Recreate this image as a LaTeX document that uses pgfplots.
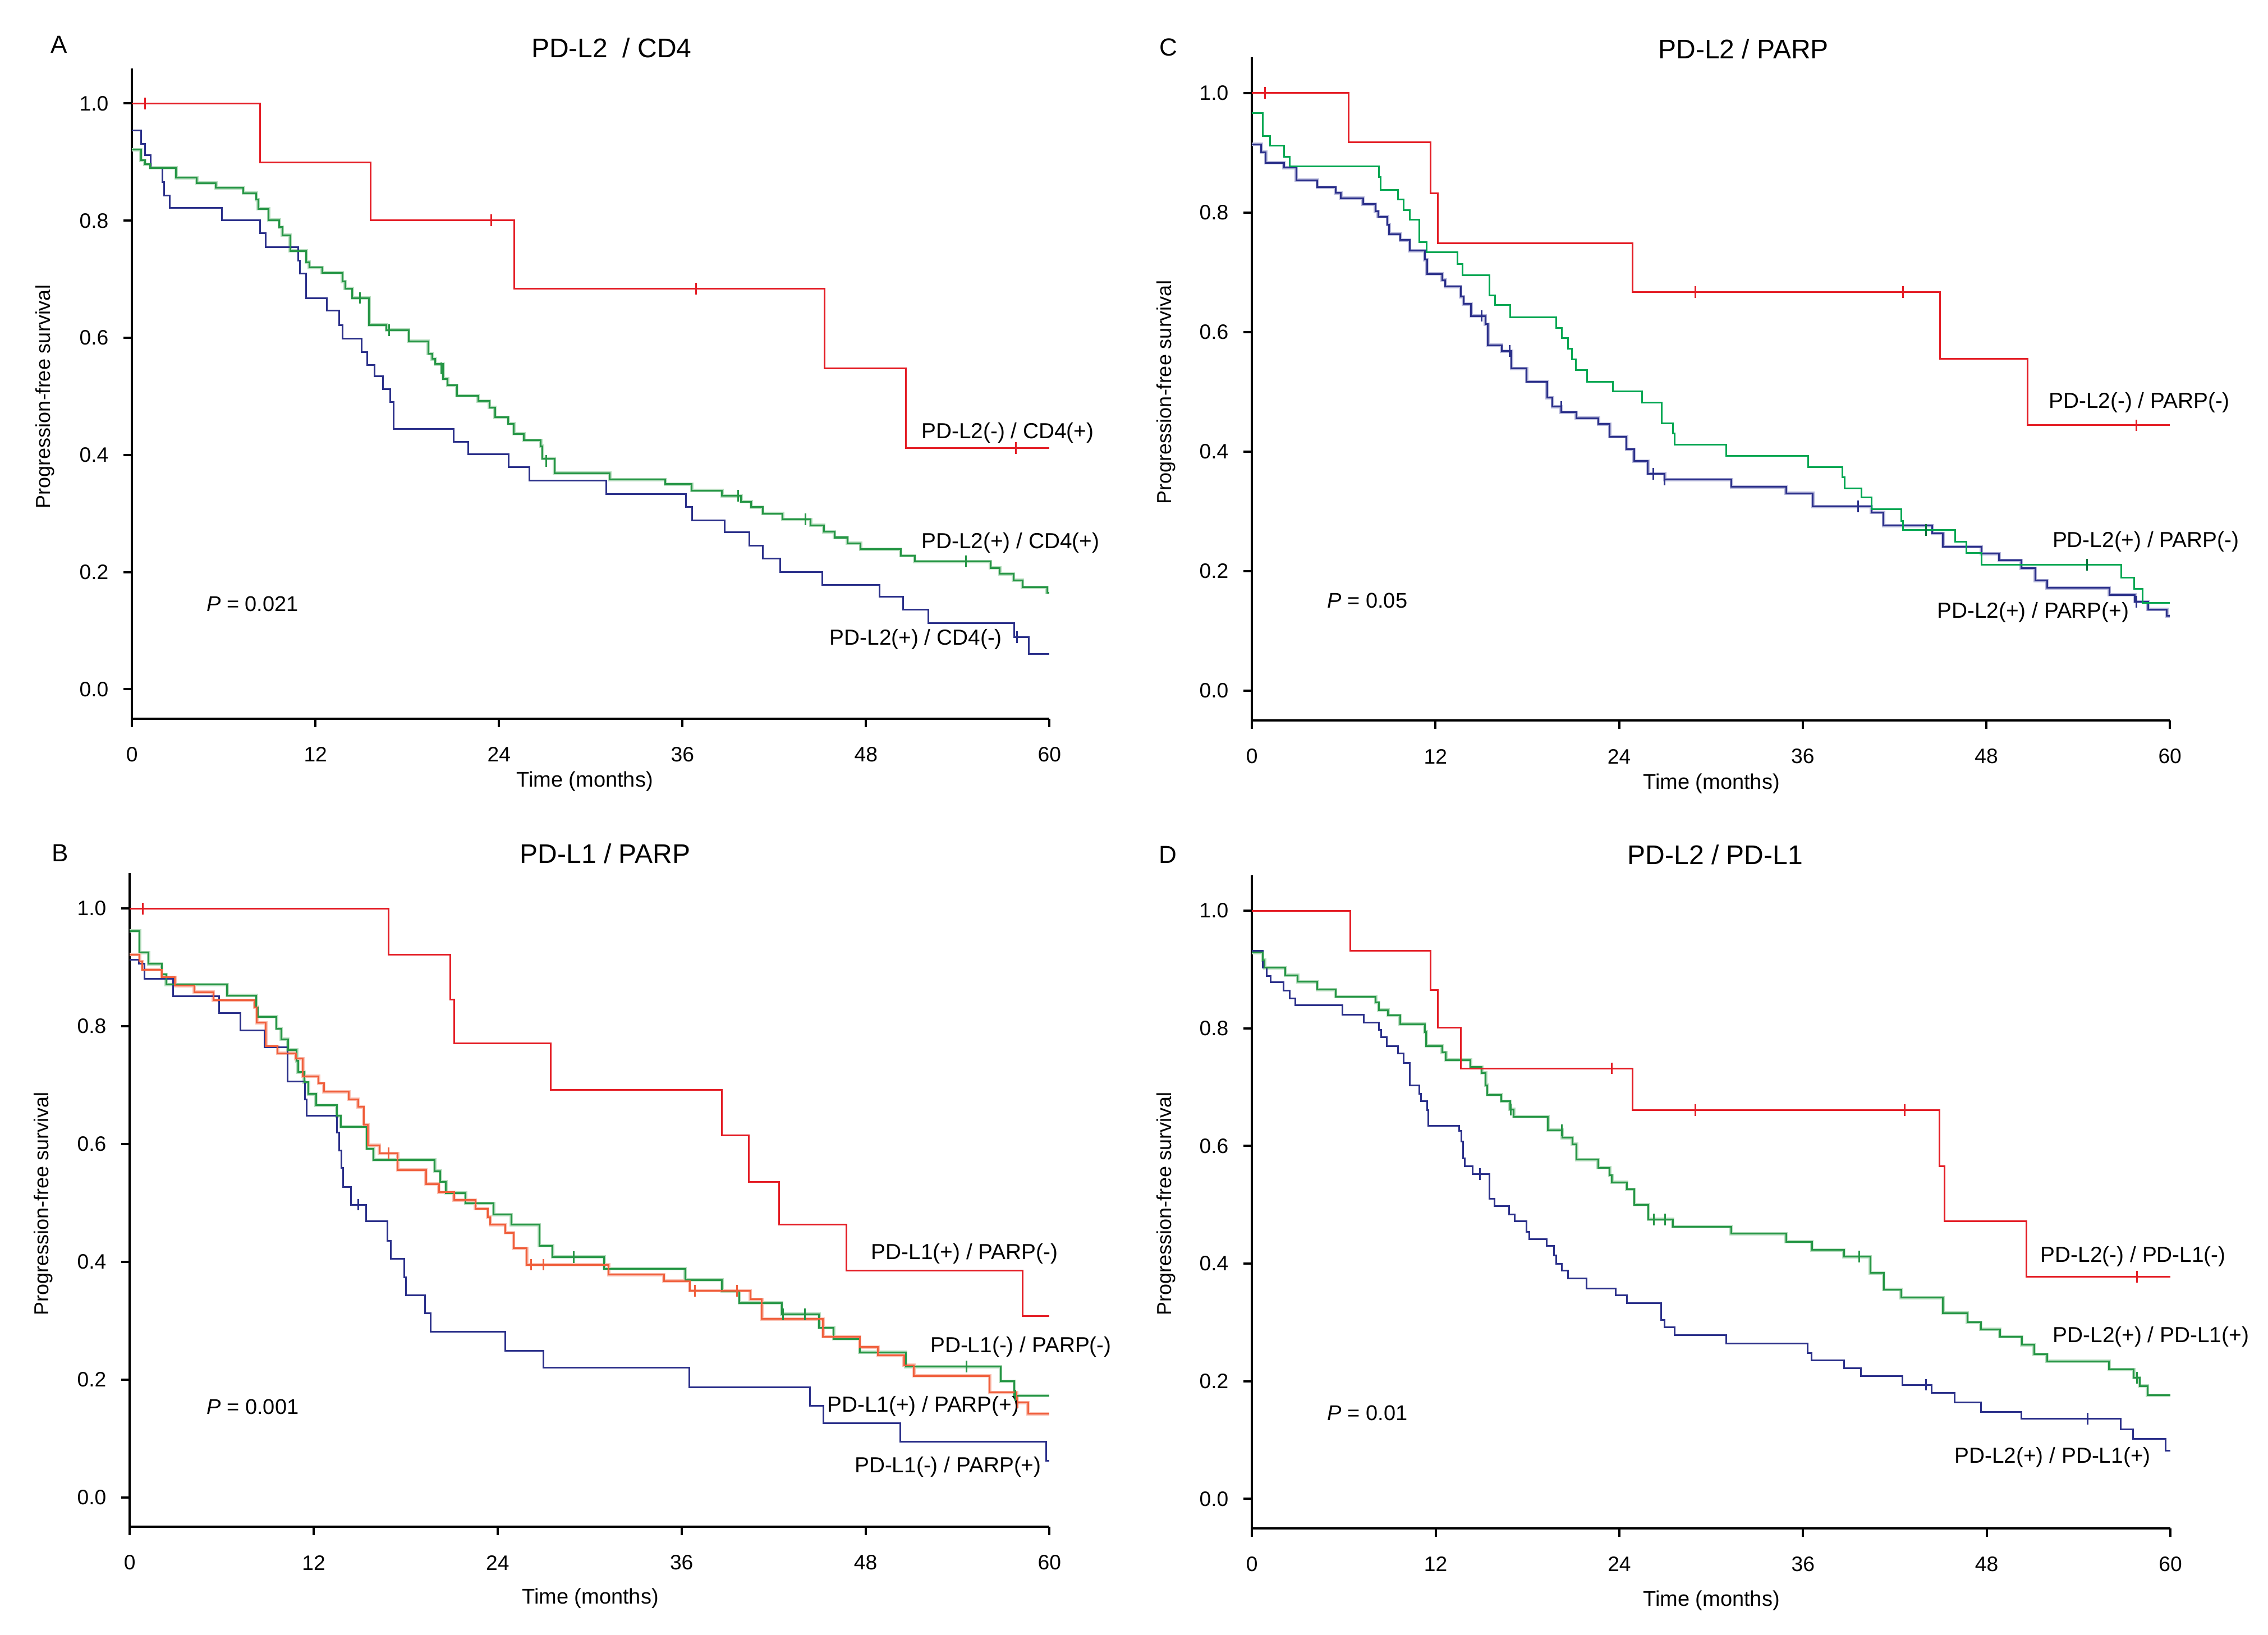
\documentclass[border=0pt]{standalone}
\usepackage{fontspec}
\setmainfont{Liberation Sans}
\usepackage{pgfplots}
\usepackage{pgfplotstable}
\pgfplotsset{compat=1.18}

\definecolor{kmred}{RGB}{228,30,38}
\definecolor{kmgreen}{RGB}{38,150,70}
\definecolor{kmgreenC}{RGB}{0,166,81}
\definecolor{kmblue}{RGB}{43,48,138}
\definecolor{kmorange}{RGB}{240,95,60}
\definecolor{halogreen}{RGB}{185,222,192}
\definecolor{haloorange}{RGB}{250,195,182}
\definecolor{haloblue}{RGB}{185,186,220}

% ---------- panel A: PD-L2 / CD4 ----------
\pgfplotstableread{
t s
0 1.000
8.36 0.899
15.6 0.801
25.0 0.684
45.3 0.548
50.6 0.412
60 0.412
}\Ared
\pgfplotstableread{
t s
0 0.954
0.58 0.931
0.84 0.912
1.24 0.890
1.98 0.866
2.1 0.843
2.48 0.822
5.88 0.801
8.36 0.779
8.74 0.755
10.86 0.732
11.0 0.710
11.4 0.668
12.74 0.646
13.54 0.622
13.76 0.599
15.0 0.576
15.38 0.554
15.88 0.534
16.4 0.512
16.88 0.490
17.12 0.444
21.02 0.422
22.0 0.401
24.62 0.379
26.0 0.356
31.0 0.333
36.24 0.311
36.64 0.288
38.76 0.268
40.38 0.245
41.26 0.223
42.38 0.200
45.14 0.178
48.9 0.158
50.42 0.136
52.06 0.113
57.7 0.089
58.66 0.060
60 0.060
}\Ablue
\pgfplotstableread{
t s
0 0.921
0.58 0.903
0.84 0.896
1.2 0.890
2.88 0.873
4.24 0.864
5.48 0.856
7.28 0.847
8.12 0.836
8.26 0.820
8.94 0.801
9.64 0.789
9.84 0.775
10.34 0.748
11.4 0.729
11.6 0.720
12.44 0.711
13.76 0.696
13.94 0.684
14.4 0.668
15.5 0.622
16.64 0.613
18.1 0.594
19.38 0.573
19.64 0.564
19.84 0.555
20.34 0.530
20.64 0.519
21.24 0.501
22.64 0.492
23.38 0.481
23.74 0.464
24.6 0.453
24.98 0.436
25.64 0.425
26.74 0.415
26.84 0.394
27.64 0.369
31.24 0.358
34.88 0.350
36.6 0.339
38.58 0.330
39.84 0.320
40.5 0.311
41.24 0.300
42.54 0.290
44.38 0.280
45.24 0.269
45.94 0.259
46.78 0.249
47.64 0.239
50.28 0.228
51.18 0.218
56.14 0.207
56.74 0.197
57.64 0.186
58.24 0.174
59.84 0.165
60 0.165
}\Agreen

% ---------- panel C: PD-L2 / PARP ----------
\pgfplotstableread{
t s
0 1.000
6.3 0.918
11.68 0.832
12.16 0.749
24.88 0.667
44.97 0.555
50.7 0.444
60 0.444
}\Cred
\pgfplotstableread{
t s
0 0.966
0.7 0.928
1.19 0.912
2.09 0.893
2.45 0.877
8.3 0.859
8.42 0.838
9.55 0.822
9.91 0.804
10.3 0.788
10.95 0.750
11.4 0.734
13.43 0.714
13.77 0.695
15.54 0.661
15.88 0.645
16.88 0.625
19.9 0.607
20.26 0.590
20.64 0.572
20.9 0.554
21.16 0.536
21.9 0.517
23.6 0.501
25.5 0.482
26.77 0.447
27.5 0.430
27.62 0.412
31.0 0.393
36.36 0.374
38.6 0.357
38.72 0.338
39.84 0.323
40.49 0.304
42.45 0.284
42.57 0.269
45.96 0.249
46.7 0.230
47.67 0.211
56.81 0.189
57.66 0.170
58.2 0.147
60 0.147
}\Cgreen
\pgfplotstableread{
t s
0 0.914
0.6 0.901
0.9 0.883
2.09 0.875
2.89 0.854
4.28 0.842
5.47 0.833
5.81 0.824
7.26 0.814
8.06 0.802
8.26 0.793
8.86 0.780
8.96 0.764
9.71 0.754
10.3 0.736
11.3 0.721
11.44 0.697
12.44 0.687
12.64 0.676
13.65 0.659
13.83 0.647
14.33 0.627
15.26 0.613
15.42 0.578
16.32 0.568
16.97 0.539
17.95 0.517
19.3 0.490
19.64 0.475
20.2 0.466
21.2 0.456
22.65 0.446
23.38 0.425
24.48 0.404
24.98 0.384
25.87 0.363
26.97 0.353
31.33 0.341
34.92 0.330
36.65 0.308
40.49 0.298
41.28 0.276
44.47 0.263
45.17 0.241
47.67 0.229
48.84 0.218
50.28 0.205
51.2 0.184
51.97 0.172
56.04 0.160
57.7 0.149
58.57 0.136
59.8 0.125
60 0.125
}\Cblue

% ---------- panel B: PD-L1 / PARP ----------
\pgfplotstableread{
t s
0 1.000
16.89 0.922
20.9 0.845
21.16 0.771
27.48 0.692
38.64 0.615
40.37 0.536
42.37 0.463
46.76 0.385
58.24 0.308
60 0.308
}\Bred
\pgfplotstableread{
t s
0 0.913
0.6 0.906
0.95 0.881
2.84 0.851
5.82 0.822
7.21 0.793
8.8 0.764
10.29 0.706
11.42 0.676
11.54 0.648
13.51 0.619
13.65 0.589
13.81 0.559
13.93 0.527
14.42 0.497
15.42 0.469
16.81 0.436
17.03 0.405
17.92 0.374
18.02 0.343
19.27 0.313
19.63 0.281
24.5 0.249
26.98 0.220
36.5 0.187
44.39 0.155
45.27 0.126
50.26 0.094
59.78 0.062
60 0.062
}\Bblue
\pgfplotstableread{
t s
0 0.962
0.64 0.925
1.23 0.906
2.09 0.888
2.38 0.871
6.36 0.852
8.25 0.832
8.35 0.816
9.58 0.796
9.89 0.778
10.33 0.760
10.89 0.741
10.99 0.722
11.38 0.705
11.66 0.685
12.16 0.666
13.51 0.648
13.77 0.629
15.46 0.592
15.9 0.573
19.9 0.554
20.27 0.536
20.62 0.517
21.9 0.499
23.74 0.480
24.9 0.463
26.72 0.427
27.58 0.408
30.95 0.388
36.24 0.369
38.64 0.350
39.77 0.330
42.53 0.311
44.97 0.288
45.92 0.269
47.62 0.246
50.62 0.222
56.8 0.197
57.7 0.173
60 0.173
}\Bgreen
\pgfplotstableread{
t s
0 0.922
0.64 0.910
0.83 0.896
2.09 0.883
2.94 0.869
4.21 0.858
5.46 0.844
8.15 0.832
8.29 0.806
8.88 0.766
9.64 0.754
10.83 0.745
11.29 0.715
12.32 0.703
12.66 0.689
14.3 0.676
14.9 0.663
15.26 0.633
15.54 0.598
16.29 0.584
17.48 0.556
19.33 0.532
20.17 0.518
21.16 0.505
22.55 0.490
23.35 0.476
23.51 0.463
24.5 0.449
25.03 0.423
25.89 0.395
31.25 0.378
34.84 0.367
36.54 0.351
40.49 0.336
41.23 0.303
45.22 0.273
47.62 0.255
48.82 0.241
50.52 0.224
51.16 0.206
56.1 0.178
57.86 0.161
58.6 0.142
60 0.142
}\Borange

% ---------- panel D: PD-L2 / PD-L1 ----------
\pgfplotstableread{
t s
0 1.000
6.42 0.932
11.67 0.865
12.15 0.801
13.66 0.732
24.85 0.661
44.9 0.566
45.25 0.472
50.6 0.378
60 0.378
}\Dred
\pgfplotstableread{
t s
0 0.929
0.7 0.916
0.83 0.903
2.19 0.890
2.98 0.879
4.27 0.866
5.47 0.854
8.09 0.844
8.29 0.831
8.89 0.822
9.68 0.807
11.29 0.794
11.39 0.770
12.43 0.759
12.66 0.746
14.27 0.734
15.01 0.724
15.27 0.703
15.37 0.687
16.3 0.676
16.86 0.662
17.1 0.650
19.34 0.627
20.28 0.614
20.93 0.603
21.21 0.577
22.62 0.563
23.36 0.550
23.52 0.538
24.49 0.526
24.99 0.500
25.9 0.475
27.5 0.463
31.3 0.451
34.9 0.437
36.58 0.423
38.67 0.412
40.4 0.384
41.28 0.356
42.41 0.342
45.14 0.316
46.74 0.300
47.62 0.288
48.87 0.276
50.3 0.262
51.1 0.246
51.94 0.234
56.0 0.220
57.6 0.206
58.0 0.192
58.5 0.176
60 0.176
}\Dgreen
\pgfplotstableread{
t s
0 0.932
0.7 0.903
0.95 0.889
1.23 0.878
2.05 0.864
2.45 0.851
2.84 0.839
5.92 0.823
7.32 0.810
8.29 0.797
8.45 0.785
8.79 0.770
9.54 0.757
9.9 0.741
10.3 0.703
10.93 0.689
11.03 0.676
11.43 0.661
11.53 0.634
13.52 0.626
13.68 0.608
13.78 0.579
13.92 0.566
14.41 0.552
15.5 0.510
15.86 0.498
16.8 0.484
17.16 0.472
17.93 0.454
18.13 0.442
19.24 0.430
19.74 0.414
19.88 0.400
20.24 0.388
20.64 0.375
21.87 0.358
23.76 0.346
24.49 0.333
26.74 0.304
26.94 0.292
27.6 0.278
30.98 0.264
36.3 0.248
36.55 0.236
38.67 0.222
39.77 0.209
42.49 0.194
44.4 0.180
45.9 0.164
47.62 0.148
50.26 0.136
56.75 0.118
57.55 0.102
59.68 0.082
60 0.082
}\Dblue

\pgfplotsset{
  km/.style={
    scale only axis, clip=false,
    xmin=0, xmax=60, ymin=-0.05, ymax=1.06,
    axis lines*=left,
    axis line style={line width=1pt},
    tick align=outside,
    major tick length=3.75pt,
    tick style={black, line width=1pt},
    xtick={0,12,24,36,48,60},
    xticklabels={0,12,24,36,48,60},
    ytick={0,0.2,0.4,0.6,0.8,1},
    yticklabels={0.0,0.2,0.4,0.6,0.8,1.0},
    tick label style={font=\fontsize{9.3}{11}\selectfont},
    xticklabel style={anchor=center, inner sep=0pt, yshift=-12.25pt},
    yticklabel style={anchor=east, inner sep=0pt, xshift=-6.5pt},
  },
  curve/.style={const plot, line width=0.75pt},
  halo/.style={const plot, line width=1.5pt, forget plot},
  cens/.style={only marks, mark=|, mark size=2.6pt, mark options={line width=0.75pt}},
}
\tikzset{
  klab/.style={anchor=west, inner sep=0pt, font=\fontsize{9.7}{11}\selectfont},
  plab/.style={anchor=west, inner sep=0pt, font=\fontsize{9.5}{11}\selectfont},
}

\begin{document}
\begin{tikzpicture}
\useasboundingbox (0,0) rectangle (1010.5pt,728.25pt);

% ===== A =====
\begin{axis}[km, at={(58.8pt,408.1pt)}, anchor=south west, width=408.8pt, height=289.7pt]
\addplot[halo, halogreen] table[x=t,y=s] {\Agreen};
\addplot[curve, kmblue] table[x=t,y=s] {\Ablue};
\addplot[curve, kmgreen] table[x=t,y=s] {\Agreen};
\addplot[curve, kmred] table[x=t,y=s] {\Ared};
\addplot[cens, kmred] coordinates {(0.84,1.0) (23.5,0.801) (36.9,0.684) (57.8,0.412)};
\addplot[cens, kmgreen] coordinates {(14.9,0.668) (16.8,0.613) (20.24,0.548) (27.1,0.390) (39.64,0.330) (44.04,0.290) (54.54,0.218)};
\addplot[cens, kmblue] coordinates {(57.86,0.089)};
\node[klab] at (axis cs:51.6,0.438) {PD-L2(-) / CD4(+)};
\node[klab] at (axis cs:51.6,0.250) {PD-L2(+) / CD4(+)};
\node[klab] at (axis cs:45.6,0.085) {PD-L2(+) / CD4(-)};
\node[plab] at (axis cs:4.85,0.146) {\textit{P} = 0.021};
\end{axis}

% ===== C =====
\begin{axis}[km, at={(557.8pt,407.2pt)}, anchor=south west, width=409pt, height=295.6pt]
\addplot[halo, haloblue] table[x=t,y=s] {\Cblue};
\addplot[curve, kmblue] table[x=t,y=s] {\Cblue};
\addplot[curve, kmgreenC] table[x=t,y=s] {\Cgreen};
\addplot[curve, kmred] table[x=t,y=s] {\Cred};
\addplot[cens, kmred] coordinates {(0.84,1.0) (29.0,0.667) (42.56,0.667) (57.8,0.444)};
\addplot[cens, kmgreenC!70!black] coordinates {(44.07,0.269) (54.57,0.211)};
\addplot[cens, kmblue] coordinates {(15.0,0.627) (16.86,0.568) (20.2,0.475) (26.23,0.363) (26.97,0.353) (39.6,0.308) (57.8,0.149)};
\node[klab] at (axis cs:52.05,0.482) {PD-L2(-) / PARP(-)};
\node[klab] at (axis cs:52.3,0.249) {PD-L2(+) / PARP(-)};
\node[klab] at (axis cs:44.75,0.131) {PD-L2(+) / PARP(+)};
\node[plab] at (axis cs:4.9,0.151) {\textit{P} = 0.05};
\end{axis}

% ===== B =====
\begin{axis}[km, at={(57.8pt,48pt)}, anchor=south west, width=409.8pt, height=291.2pt]
\addplot[halo, halogreen] table[x=t,y=s] {\Bgreen};
\addplot[halo, haloorange] table[x=t,y=s] {\Borange};
\addplot[curve, kmblue] table[x=t,y=s] {\Bblue};
\addplot[curve, kmgreen] table[x=t,y=s] {\Bgreen};
\addplot[curve, kmorange] table[x=t,y=s] {\Borange};
\addplot[curve, kmred] table[x=t,y=s] {\Bred};
\addplot[cens, kmred] coordinates {(0.85,1.0)};
\addplot[cens, kmgreen] coordinates {(28.97,0.408) (42.6,0.311) (44.03,0.311) (54.6,0.222) (57.76,0.173)};
\addplot[cens, kmorange] coordinates {(16.9,0.584) (26.2,0.395) (26.98,0.395) (36.88,0.351) (39.63,0.351) (57.9,0.161)};
\addplot[cens, kmblue] coordinates {(14.9,0.497)};
\node[klab] at (axis cs:48.35,0.414) {PD-L1(+) / PARP(-)};
\node[klab] at (axis cs:52.2,0.255) {PD-L1(-) / PARP(-)};
\node[klab] at (axis cs:45.47,0.154) {PD-L1(+) / PARP(+)};
\node[klab] at (axis cs:47.26,0.052) {PD-L1(-) / PARP(+)};
\node[plab] at (axis cs:5.0,0.154) {\textit{P} = 0.001};
\end{axis}

% ===== D =====
\begin{axis}[km, at={(557.8pt,47.3pt)}, anchor=south west, width=409.2pt, height=290.9pt]
\addplot[halo, halogreen] table[x=t,y=s] {\Dgreen};
\addplot[curve, kmblue] table[x=t,y=s] {\Dblue};
\addplot[curve, kmgreen] table[x=t,y=s] {\Dgreen};
\addplot[curve, kmred] table[x=t,y=s] {\Dred};
\addplot[cens, kmred] coordinates {(23.5,0.732) (28.97,0.661) (42.65,0.661) (57.8,0.378)};
\addplot[cens, kmgreen] coordinates {(16.9,0.662) (20.24,0.627) (26.24,0.475) (27.0,0.475) (39.66,0.412) (57.8,0.206)};
\addplot[cens, kmblue] coordinates {(14.9,0.552) (44.02,0.194) (54.6,0.136)};
\node[klab] at (axis cs:51.5,0.412) {PD-L2(-) / PD-L1(-)};
\node[klab] at (axis cs:52.3,0.276) {PD-L2(+) / PD-L1(+)};
\node[klab] at (axis cs:45.87,0.071) {PD-L2(+) / PD-L1(+)};
\node[plab] at (axis cs:4.9,0.146) {\textit{P} = 0.01};
\end{axis}

% ===== titles, panel letters and axis labels =====
\begin{scope}[every node/.style={inner sep=0pt}]
\node[font=\fontsize{12}{14}\selectfont] at (272.5pt,707pt) {PD-L2\ \ / CD4};
\node[font=\fontsize{12}{14}\selectfont] at (776.8pt,706.3pt) {PD-L2 / PARP};
\node[font=\fontsize{12}{14}\selectfont] at (269.6pt,348pt) {PD-L1 / PARP};
\node[font=\fontsize{12}{14}\selectfont] at (764.2pt,347.3pt) {PD-L2 / PD-L1};
\node[font=\fontsize{11}{13}\selectfont] at (26.25pt,708.5pt) {A};
\node[font=\fontsize{11}{13}\selectfont] at (520.5pt,707.25pt) {C};
\node[font=\fontsize{11}{13}\selectfont] at (26.75pt,348.25pt) {B};
\node[font=\fontsize{11}{13}\selectfont] at (520.25pt,347.5pt) {D};
\node[font=\fontsize{9}{11}\selectfont, rotate=90] at (20pt,551.5pt) {Progression-free survival};
\node[font=\fontsize{9}{11}\selectfont, rotate=90] at (519.5pt,553.5pt) {Progression-free survival};
\node[font=\fontsize{9}{11}\selectfont, rotate=90] at (19.4pt,192pt) {Progression-free survival};
\node[font=\fontsize{9}{11}\selectfont, rotate=90] at (519.5pt,192pt) {Progression-free survival};
\node[font=\fontsize{9.5}{11}\selectfont] at (260.5pt,380pt) {Time (months)};
\node[font=\fontsize{9.5}{11}\selectfont] at (762.5pt,379pt) {Time (months)};
\node[font=\fontsize{9.5}{11}\selectfont] at (263pt,16pt) {Time (months)};
\node[font=\fontsize{9.5}{11}\selectfont] at (762.5pt,15pt) {Time (months)};
\end{scope}
\end{tikzpicture}
\end{document}
